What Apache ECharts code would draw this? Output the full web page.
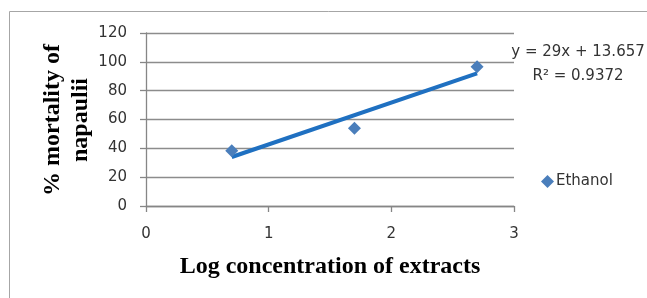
<!DOCTYPE html>
<html>
<head>
<meta charset="utf-8">
<script src="https://cdn.jsdelivr.net/npm/echarts@6/dist/echarts.min.js"></script>
<style>
  html, body { margin: 0; padding: 0; background: #fff; }
  #chart { width: 647px; height: 298px; }
</style>
</head>
<body>
<div id="chart"></div>
<script>
// log concentration of extracts vs % mortality
const logConc = [0.699, 1.699, 2.699];
const mortality = [38.4, 53.9, 96.6];
// linear trendline endpoints
const trendX = [0.699, 2.699];
const trendY = [34.0, 92.0];
const equation = "y = 29x + 13.657";
const rSquared = "R² = 0.9372";

const axisGray = "#868686";
const gridGray = "#8c8c8c";
const labelFont = "DejaVu Sans";

const opt = {
  animation: false,
  grid: {
    left: 146,
    right: 133,
    top: 33,
    bottom: 92,
  },
  xAxis: {
    type: "value",
    min: 0,
    max: 3,
    interval: 1,
    name: "Log concentration of extracts",
    nameLocation: "middle",
    nameGap: 49,
    nameTextStyle: {
      fontFamily: "Liberation Serif",
      fontWeight: "bold",
      fontSize: 24,
      color: "#000",
    },
    axisLine: { lineStyle: { color: axisGray, width: 1.3 } },
    axisTick: { show: true, length: 6, lineStyle: { color: axisGray, width: 1.3 } },
    axisLabel: {
      color: "#333",
      fontFamily: labelFont,
      fontSize: 15,
      margin: 21,
    },
    splitLine: { show: false },
  },
  yAxis: {
    type: "value",
    min: 0,
    max: 120,
    interval: 20,
    axisLine: { show: true, lineStyle: { color: axisGray, width: 1.3 } },
    axisTick: { show: true, length: 6, lineStyle: { color: axisGray, width: 1.3 } },
    axisLabel: {
      color: "#333",
      fontFamily: labelFont,
      fontSize: 15,
      margin: 19,
    },
    splitLine: { lineStyle: { color: gridGray, width: 1.3 } },
  },
  legend: {
    left: 536,
    top: 169,
    itemWidth: 13,
    itemHeight: 13,
    itemGap: 4,
    data: [{ name: "Ethanol", icon: "diamond" }],
    textStyle: {
      fontFamily: labelFont,
      fontSize: 15,
      color: "#333",
      padding: [0, 0, 0, -3],
    },
  },
  graphic: [
    {
      type: "rect",
      shape: { x: 9.5, y: 11.5, width: 700, height: 400 },
      style: { fill: "none", stroke: "#a6a6a6", lineWidth: 1 },
      silent: true,
    },
    {
      // y axis title, two centred lines reading bottom to top
      type: "text",
      x: 67,
      y: 120,
      rotation: Math.PI / 2,
      style: {
        text: "% mortality of\nnapaulii",
        align: "center",
        verticalAlign: "middle",
        fontFamily: "Liberation Serif",
        fontWeight: "bold",
        fontSize: 24,
        lineHeight: 28,
        fill: "#000",
      },
      silent: true,
    },
    {
      type: "text",
      x: 578,
      y: 52,
      style: {
        text: equation,
        align: "center",
        verticalAlign: "middle",
        fontFamily: labelFont,
        fontSize: 15,
        fill: "#333",
      },
      silent: true,
    },
    {
      type: "text",
      x: 578,
      y: 76,
      style: {
        text: rSquared,
        align: "center",
        verticalAlign: "middle",
        fontFamily: labelFont,
        fontSize: 15,
        fill: "#333",
      },
      silent: true,
    },
  ],
  series: [
    {
      name: "Trend",
      type: "line",
      data: trendX.map((x, i) => [x, trendY[i]]),
      showSymbol: false,
      symbol: "none",
      lineStyle: { color: "#1f70c1", width: 4 },
      z: 2,
    },
    {
      name: "Ethanol",
      type: "scatter",
      data: logConc.map((x, i) => [x, mortality[i]]),
      symbol: "diamond",
      symbolSize: 13,
      itemStyle: { color: "#4a7ebb", opacity: 1 },
      z: 3,
    },
  ],
};

echarts.init(document.getElementById("chart")).setOption(opt);
</script>
</body>
</html>
